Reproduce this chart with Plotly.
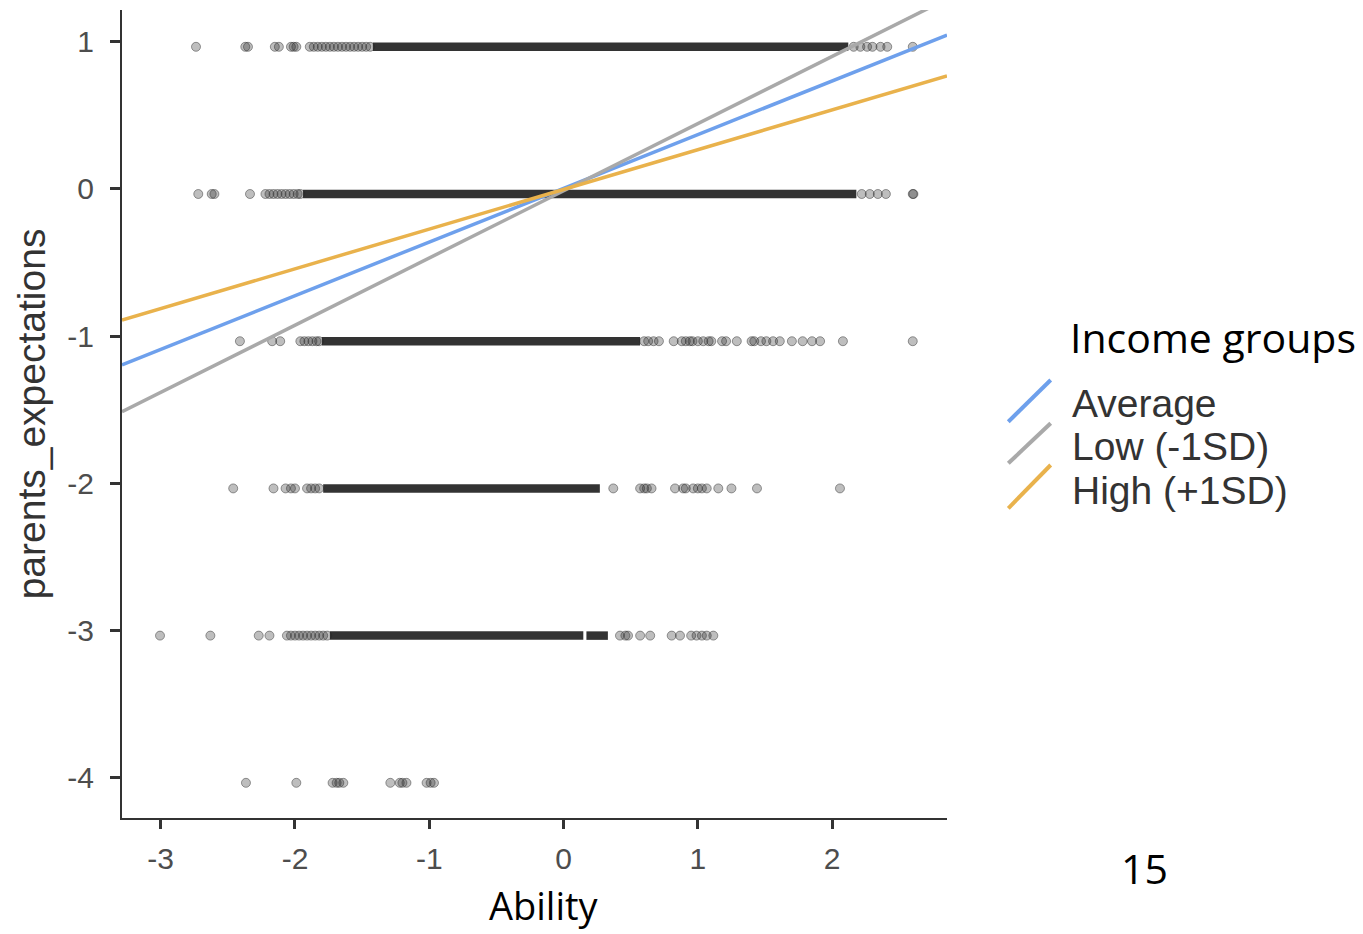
import plotly.graph_objects as go

# ---------------- data ----------------
# vertical position of each row of dots (levels 1 .. -4, dots sit slightly below the tick)
row_y = [0.965, -0.035, -1.035, -2.035, -3.035, -4.035]

# individual (sparse) points per row, Ability values
row1_points = [-2.737, -2.37, -2.35, -2.15, -2.12, -2.03, -2.01, -1.99, -1.89, -1.86,
               -1.83, -1.80, -1.77, -1.74, -1.71, -1.68, -1.65, -1.62, -1.59, -1.56,
               -1.53, -1.50, -1.47, -1.44, 2.16, 2.21, 2.26, 2.30, 2.36, 2.41, 2.60]
row0_points = [-2.72, -2.62, -2.60, -2.335, -2.22, -2.19, -2.16, -2.13, -2.10, -2.07,
               -2.04, -2.01, -1.98, -1.96, 2.22, 2.28, 2.34, 2.40, 2.60, 2.605]
rowm1_points = [-2.41, -2.17, -2.11, -1.96, -1.93, -1.90, -1.87, -1.84, -1.82, 0.60,
                0.63, 0.67, 0.71, 0.82, 0.88, 0.91, 0.94, 0.96, 1.00, 1.04, 1.08,
                1.10, 1.18, 1.21, 1.29, 1.40, 1.42, 1.47, 1.51, 1.56, 1.61, 1.70,
                1.78, 1.85, 1.91, 2.08, 2.60]
rowm2_points = [-2.46, -2.16, -2.07, -2.03, -2.00, -1.91, -1.88, -1.85, -1.82, 0.37,
                0.57, 0.60, 0.62, 0.655, 0.83, 0.89, 0.91, 0.965, 1.00, 1.03, 1.066,
                1.152, 1.25, 1.44, 2.058]
rowm3_points = [-3.005, -2.63, -2.27, -2.19, -2.06, -2.03, -2.00, -1.97, -1.94, -1.91,
                -1.88, -1.85, -1.82, -1.79, -1.76, 0.42, 0.46, 0.48, 0.57, 0.645,
                0.805, 0.867, 0.95, 0.99, 1.03, 1.066, 1.115]
rowm4_points = [-2.365, -1.99, -1.72, -1.69, -1.67, -1.64, -1.29, -1.22, -1.20, -1.17,
                -1.02, -0.99, -0.965]

# dense (solid-looking) stretches per row: (start, end)
row1_dense = [(-1.42, 2.12)]
row0_dense = [(-1.94, 2.18)]
rowm1_dense = [(-1.80, 0.57)]
rowm2_dense = [(-1.79, 0.27)]
rowm3_dense = [(-1.74, 0.147), (0.17, 0.33)]
rowm4_dense = []

# regression lines (end points at the plot edges)
line_x = [-3.288, 2.855]
avg_y = [-1.196, 1.045]
low_y = [-1.514, 1.29]
high_y = [-0.891, 0.767]

group_names = ["Average", "Low (-1SD)", "High (+1SD)"]
group_colors = ["#6EA0EC", "#A9A9A9", "#E9B24C"]

x_ticks = [-3, -2, -1, 0, 1, 2]
y_ticks = [1, 0, -1, -2, -3, -4]

# ---------------- figure ----------------
OFF = 8                      # page body margin
W, H = 1363 - OFF, 934 - OFF
L, R, T, B = 122, 947, 10, 818  # plot area in page pixels


def px(xp):
    return (xp - L) / (R - L)


def py(yp):
    return (B - yp) / (B - T)


fig = go.Figure()

all_points = [row1_points, row0_points, rowm1_points, rowm2_points, rowm3_points, rowm4_points]
all_dense = [row1_dense, row0_dense, rowm1_dense, rowm2_dense, rowm3_dense, rowm4_dense]

# dense stretches as thick dark segments
dx, dy = [], []
for yv, segs in zip(row_y, all_dense):
    for a, b in segs:
        dx += [a, b, None]
        dy += [yv, yv, None]
fig.add_trace(go.Scatter(x=dx, y=dy, mode="lines",
                         line=dict(color="#333333", width=8.5),
                         hoverinfo="skip", showlegend=False))

# sparse points
sx, sy = [], []
for yv, pts in zip(row_y, all_points):
    sx += pts
    sy += [yv] * len(pts)
fig.add_trace(go.Scatter(x=sx, y=sy, mode="markers",
                         marker=dict(size=9, color="rgba(40,40,40,0.30)",
                                     line=dict(width=1, color="rgba(40,40,40,0.45)")),
                         showlegend=False))

for name, col, ys in zip(group_names, group_colors, [avg_y, low_y, high_y]):
    fig.add_trace(go.Scatter(x=line_x, y=ys, mode="lines", name=name,
                             line=dict(color=col, width=3.5), showlegend=False))

axis_font = dict(family="Liberation Sans, Arial", size=30, color="#4D4D4D")

fig.update_layout(
    width=W, height=H,
    margin=dict(l=L - OFF, r=W - (R - OFF), t=T - OFF, b=H - (B - OFF), pad=0),
    plot_bgcolor="white", paper_bgcolor="white",
    showlegend=False,
    xaxis=dict(range=[line_x[0], line_x[1]], tickvals=x_ticks,
               ticktext=[str(v) for v in x_ticks],
               showgrid=False, zeroline=False, showline=True, linecolor="#333333",
               linewidth=2, ticks="outside", ticklen=9, tickwidth=3, tickcolor="#333333",
               tickfont=axis_font, ticklabelstandoff=4),
    yaxis=dict(range=[-4.274, 1.215], tickvals=y_ticks,
               ticktext=[str(v) for v in y_ticks],
               showgrid=False, zeroline=False, showline=True, linecolor="#333333",
               linewidth=2, ticks="outside", ticklen=10, tickwidth=3, tickcolor="#333333",
               tickfont=axis_font, ticklabelstandoff=10,
               title=dict(text="parents_expectations",
                          font=dict(family="Liberation Sans, Arial", size=39, color="#333333"),
                          standoff=10)),
)

# custom legend with diagonal keys
key_y = [(421.7, 380.0), (463.3, 423.3), (508.3, 465.0)]
text_y = [403, 447, 490]
for (y0, y1), ty, name, col in zip(key_y, text_y, group_names, group_colors):
    fig.add_shape(type="line", xref="paper", yref="paper",
                  x0=px(1008.3), y0=py(y0), x1=px(1050.7), y1=py(y1),
                  line=dict(color=col, width=4))
    fig.add_annotation(text=name, xref="paper", yref="paper", x=px(1070), y=py(ty),
                       xanchor="left", yanchor="middle", showarrow=False,
                       font=dict(family="Liberation Sans, Arial", size=39, color="#333333"))

fig.add_annotation(text="Income groups", xref="paper", yref="paper", x=px(1068), y=py(337),
                   xanchor="left", yanchor="middle", showarrow=False,
                   font=dict(family="Open Sans", size=41, color="black"))
fig.add_annotation(text="15", xref="paper", yref="paper", x=px(1144), y=py(868),
                   xanchor="center", yanchor="middle", showarrow=False,
                   font=dict(family="Open Sans", size=41, color="black"))
fig.add_annotation(text="Ability", xref="paper", yref="paper", x=px(544), y=py(933),
                   xanchor="center", yanchor="bottom", showarrow=False,
                   font=dict(family="Open Sans", size=38, color="black"))

fig.write_html("out.html")
